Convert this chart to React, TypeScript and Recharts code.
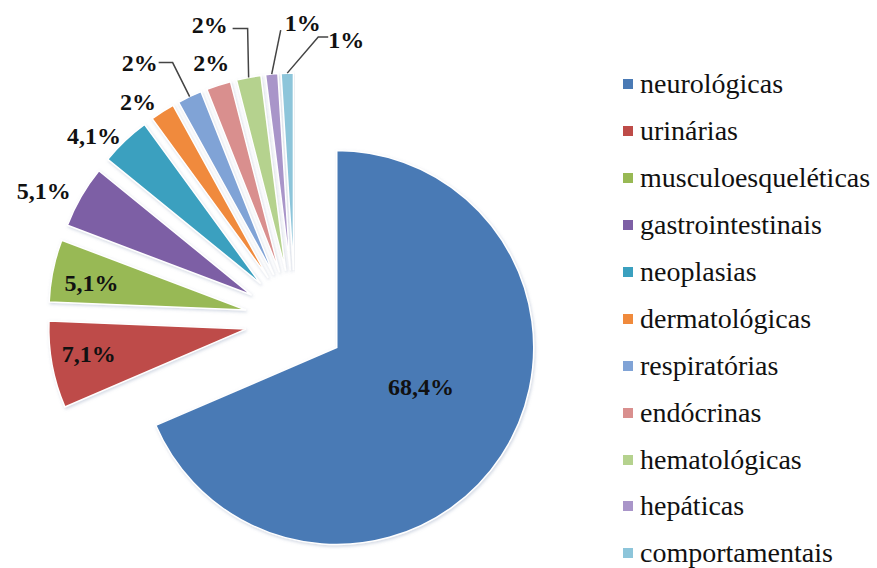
import { PieChart, Pie, Cell, Sector, Legend, Tooltip } from 'recharts'

const categories = [
  'neurológicas',
  'urinárias',
  'musculoesqueléticas',
  'gastrointestinais',
  'neoplasias',
  'dermatológicas',
  'respiratórias',
  'endócrinas',
  'hematológicas',
  'hepáticas',
  'comportamentais',
]

const percents = [68.4, 7.1, 5.1, 5.1, 4.1, 2, 2, 2, 2, 1, 1]

const colors = [
  '#4A7AB5',
  '#BE4B48',
  '#98B954',
  '#7D5FA5',
  '#3AA0BF',
  '#F08A3C',
  '#80A3D6',
  '#D98F8E',
  '#B5D28E',
  '#A995C9',
  '#8DC5DA',
]

const data = categories.map((name, i) => ({ name, value: percents[i] }))

const EXPLODE = 50
const FONT = '"Liberation Serif", serif'

// where each data label goes (inside / outside / with a leader line)
type Placement =
  | { mode: 'inside'; r: number; shift?: [number, number] }
  | { mode: 'outside'; r: number }
  | { mode: 'above'; r: number }
  | { mode: 'leader'; label: [number, number]; line: [number, number][] }

const placements: Placement[] = [
  { mode: 'inside', r: 0.47, shift: [7, -11] },
  { mode: 'inside', r: 0.8, shift: [-2, -4] },
  { mode: 'inside', r: 0.8, shift: [0, 5] },
  { mode: 'outside', r: 1.06 },
  { mode: 'outside', r: 1.03 },
  { mode: 'outside', r: 1.06 },
  { mode: 'leader', label: [-50, -34], line: [[-31, -34], [-17, -34]] },
  { mode: 'above', r: 1.12 },
  { mode: 'leader', label: [-39, -52], line: [[-16, -49], [-1, -49]] },
  { mode: 'leader', label: [31, -51], line: [[9, -44]] },
  { mode: 'leader', label: [59, -33], line: [[41, -36], [31, -36]] },
]

function fmt(v: number) {
  return Number.isInteger(v) ? `${v}%` : `${v.toFixed(1).replace('.', ',')}%`
}

function dir(midAngle: number) {
  const rad = (midAngle * Math.PI) / 180
  return [Math.cos(rad), -Math.sin(rad)]
}

function ExplodedSector(props: any) {
  const { cx, cy, innerRadius, outerRadius, startAngle, endAngle, fill } = props
  const mid = props.midAngle ?? (startAngle + endAngle) / 2
  const [ux, uy] = dir(mid)
  return (
    <Sector
      cx={cx + EXPLODE * ux}
      cy={cy + EXPLODE * uy}
      innerRadius={innerRadius}
      outerRadius={outerRadius}
      startAngle={startAngle}
      endAngle={endAngle}
      fill={fill}
      stroke="#fff"
      strokeWidth={1.5}
      filter="url(#sliceShadow)"
    />
  )
}

function renderLabel(props: any) {
  const { cx, cy, midAngle, outerRadius, index, value } = props
  const [ux, uy] = dir(midAngle)
  const ax = cx + EXPLODE * ux
  const ay = cy + EXPLODE * uy
  const p = placements[index]
  const textProps = {
    fontFamily: FONT,
    fontSize: 24,
    fontWeight: 700,
    fill: '#111',
    dominantBaseline: 'central' as const,
  }
  if (p.mode === 'leader') {
    const px = ax + outerRadius * ux
    const py = ay + outerRadius * uy
    const pts = [...p.line.map(([dx, dy]) => `${px + dx},${py + dy}`), `${px},${py}`].join(' ')
    return (
      <g key={`lbl-${index}`}>
        <polyline points={pts} fill="none" stroke="#444" strokeWidth={1.5} />
        <text x={px + p.label[0]} y={py + p.label[1]} textAnchor="middle" {...textProps}>
          {fmt(value)}
        </text>
      </g>
    )
  }
  const shift = p.mode === 'inside' && p.shift ? p.shift : [0, 0]
  const x = ax + p.r * outerRadius * ux + shift[0]
  const y = ay + p.r * outerRadius * uy + shift[1]
  const anchor = p.mode === 'outside' ? 'end' : 'middle'
  return (
    <text key={`lbl-${index}`} x={x} y={y} textAnchor={anchor} {...textProps}>
      {fmt(value)}
    </text>
  )
}

function renderLegend() {
  return (
    <div style={{ fontFamily: FONT, fontSize: 28, color: '#111' }}>
      {categories.map((name, i) => (
        <div key={name} style={{ height: 46.9, display: 'flex', alignItems: 'center' }}>
          <span
            style={{
              width: 10,
              height: 10,
              background: colors[i],
              display: 'inline-block',
              marginRight: 7,
            }}
          />
          <span>{name}</span>
        </div>
      ))}
    </div>
  )
}

export default function App() {
  return (
    <div style={{ position: 'absolute', left: 0, top: 0, width: 877, height: 568, background: '#fff' }}>
      <PieChart width={877} height={568} margin={{ top: 0, right: 0, bottom: 0, left: 0 }}>
        <defs>
          <filter id="sliceShadow" x="-10%" y="-10%" width="120%" height="120%">
            <feDropShadow dx={1} dy={1.5} stdDeviation={1.5} floodColor="#8090b0" floodOpacity={0.35} />
          </filter>
        </defs>
        <Pie
          data={data}
          dataKey="value"
          nameKey="name"
          cx={295}
          cy={320}
          outerRadius={197}
          startAngle={90}
          endAngle={-270}
          isAnimationActive={false}
          shape={ExplodedSector}
          activeShape={ExplodedSector}
          inactiveShape={ExplodedSector}
          label={renderLabel}
          labelLine={false}
        >
          {data.map((d, i) => (
            <Cell key={d.name} fill={colors[i]} />
          ))}
        </Pie>
        <Tooltip defaultIndex={0} content={() => null} cursor={false} />
        <Legend
          layout="vertical"
          verticalAlign="top"
          align="right"
          content={renderLegend}
          wrapperStyle={{ position: 'absolute', left: 623, top: 61, width: 254 }}
        />
      </PieChart>
    </div>
  )
}
